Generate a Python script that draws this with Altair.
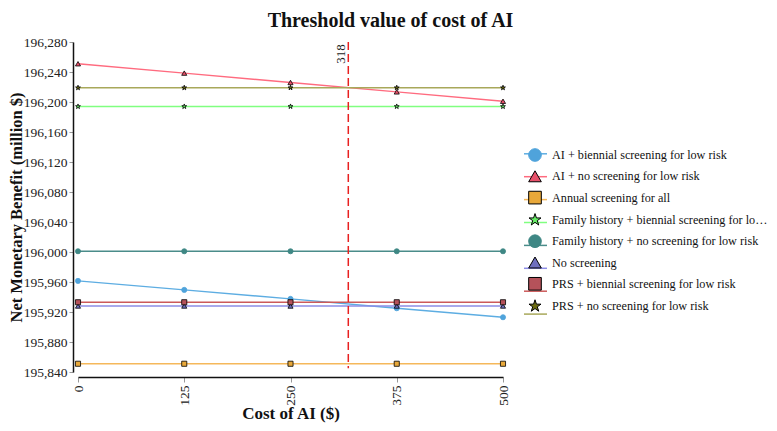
import altair as alt
import pandas as pd

costs = [0, 125, 250, 375, 500]
strategies = [
    "AI + biennial screening for low risk",
    "AI + no screening for low risk",
    "Annual screening for all",
    "Family history + biennial screening for low risk",
    "Family history + no screening for low risk",
    "No screening",
    "PRS + biennial screening for low risk",
    "PRS + no screening for low risk",
]
ai_biennial = [195961.5, 195949.5, 195937.5, 195925.0, 195913.0]
ai_none = [196251.0, 196238.5, 196226.0, 196213.5, 196201.0]
annual = [195851.0, 195851.0, 195851.0, 195851.0, 195851.0]
fh_biennial = [196194.0, 196194.0, 196194.0, 196194.0, 196194.0]
fh_none = [196001.0, 196001.0, 196001.0, 196001.0, 196001.0]
no_screen = [195928.0, 195928.0, 195928.0, 195928.0, 195928.0]
prs_biennial = [195933.0, 195933.0, 195933.0, 195933.0, 195933.0]
prs_none = [196219.0, 196219.0, 196219.0, 196219.0, 196219.0]
series = [ai_biennial, ai_none, annual, fh_biennial, fh_none, no_screen, prs_biennial, prs_none]

STAR = ("M0,-1L0.225,-0.309L0.951,-0.309L0.363,0.118L0.588,0.809L0,0.382"
        "L-0.588,0.809L-0.363,0.118L-0.951,-0.309L-0.225,-0.309Z")

line_colors = ["#5DADE2", "#FF6B7F", "#F5B85A", "#80FF80", "#4A8C8A", "#8C8CE6", "#CC5A5A", "#A8A85A"]
fill_colors = ["#4FA3DB", "#E8506A", "#E8A83A", "#66EE66", "#3E8784", "#6E6EBE", "#B5525A", "#6B6B10"]
outline_colors = ["#4FA3DB", "#000000", "#000000", "#000000", "#3E8784", "#000000", "#000000", "#000000"]
shapes = ["circle", "triangle-up", "square", STAR, "circle", "triangle-up", "square", STAR]

y_ticks = [195840, 195880, 195920, 195960, 196000, 196040, 196080, 196120, 196160, 196200, 196240, 196280]
threshold = [318]
threshold_label = ["318"]
rule_top = [196280]
rule_bottom = [195845]
label_y = [196277]

rows = []
for s, vals in zip(strategies, series):
    for c, v in zip(costs, vals):
        rows.append({"strategy": s, "cost": c, "nmb": v})
df = pd.DataFrame(rows)
df_rule = pd.DataFrame({"cost": threshold, "nmb": rule_top, "nmb2": rule_bottom})
df_lab = pd.DataFrame({"cost": threshold, "nmb": label_y, "label": threshold_label})

FONT = "Liberation Serif"

x_scale = alt.Scale(domain=[0, 500], nice=False)
y_scale = alt.Scale(domain=[195840, 196280], nice=False, zero=False)

x_enc = alt.X("cost:Q", scale=x_scale,
              axis=alt.Axis(values=costs, labelAngle=270, title="Cost of AI ($)", offset=5,
                            grid=False, labelFont=FONT, labelFontSize=13.5, labelColor="#222",
                            labelOverlap=False,
                            titleFont=FONT, titleFontSize=17, titleFontWeight="bold", titleColor="#111",
                            domainColor="#111", domainWidth=1.5, tickColor="#999", tickSize=5,
                            labelPadding=3, titlePadding=0))
y_enc = alt.Y("nmb:Q", scale=y_scale,
              axis=alt.Axis(values=y_ticks, format=",d", title="Net Monetary Benefit (million $)", offset=5,
                            grid=False, labelFont=FONT, labelFontSize=13.5, labelColor="#222",
                            labelOverlap=False,
                            titleFont=FONT, titleFontSize=16.5, titleFontWeight="bold", titleColor="#111",
                            domainColor="#111", domainWidth=1.5, tickColor="#999", tickSize=4,
                            labelPadding=2, titlePadding=-1))

legA = alt.Legend(title=None, orient="none", legendX=445, legendY=99.3, symbolType="stroke",
                  symbolSize=529, symbolStrokeWidth=1.5, labelOpacity=0, labelExpr="' '",
                  labelFont=FONT, labelFontSize=12.2, labelLimit=216, rowPadding=3.9)
legB = alt.Legend(title=None, orient="none", legendX=450, legendY=106, symbolSize=160,
                  symbolStrokeWidth=1, labelFont=FONT, labelFontSize=12.2, labelColor="#111",
                  labelLimit=216, rowPadding=4.3, labelOffset=10)

base = alt.Chart(df)
lines = base.mark_line(strokeWidth=1.5).encode(
    x=x_enc, y=y_enc,
    stroke=alt.Stroke("strategy:N", scale=alt.Scale(domain=strategies, range=line_colors), legend=legA),
)
points = base.mark_point(filled=True, size=26, strokeWidth=0.8, opacity=1).encode(
    x=x_enc, y=y_enc,
    fill=alt.Fill("strategy:N", scale=alt.Scale(domain=strategies, range=fill_colors), legend=legB),
    stroke=alt.Stroke("strategy:N", scale=alt.Scale(domain=strategies, range=outline_colors), legend=legB),
    shape=alt.Shape("strategy:N", scale=alt.Scale(domain=strategies, range=shapes), legend=legB),
)
rule = alt.Chart(df_rule).mark_rule(color="#E82020", strokeDash=[8, 4], strokeWidth=1.5).encode(
    x=x_enc, y=y_enc, y2="nmb2:Q",
)
label = alt.Chart(df_lab).mark_text(angle=270, align="right", baseline="bottom", font=FONT,
                                    fontSize=13, color="#222").encode(
    x=x_enc, y=y_enc, text="label:N",
)

chart = alt.layer(lines, points, rule, label).resolve_scale(
    stroke="independent", fill="independent", shape="independent"
).properties(
    width=425, height=330,
    title=alt.TitleParams("Threshold value of cost of AI", font=FONT, fontSize=20, fontWeight="bold",
                          color="#111", anchor="middle", dx=100, offset=4),
    autosize=alt.AutoSizeParams(type="none"),
    padding={"left": 70, "top": 34, "right": 266, "bottom": 51},
).configure_view(stroke=None)

chart.save("out.html", embed_options={"renderer": "svg", "actions": False})
